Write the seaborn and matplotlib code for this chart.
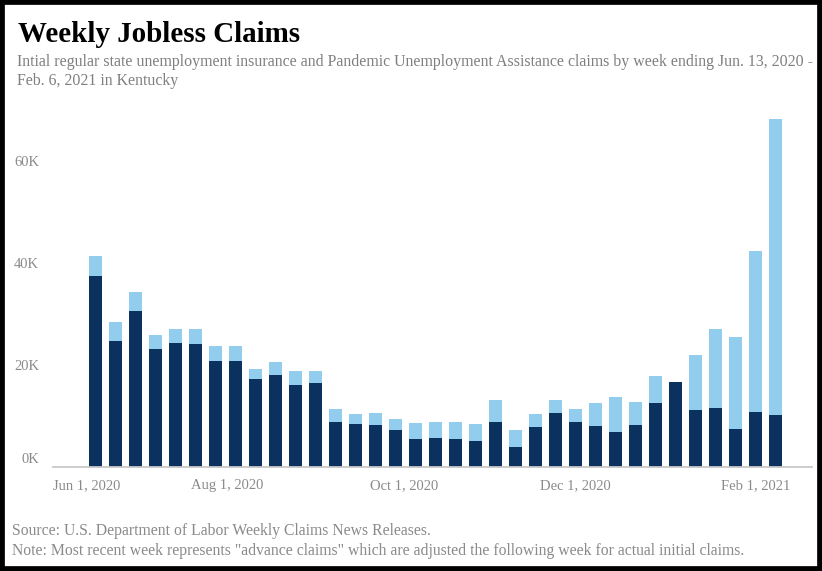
import matplotlib
matplotlib.use("Agg")
import matplotlib.pyplot as plt
import matplotlib.transforms as mtransforms
from matplotlib.patches import Rectangle
import seaborn as sns
import pandas as pd
import numpy as np

# ---- data (thousands of claims) ----
weeks = pd.date_range("2020-06-13", "2021-02-06", freq="7D").strftime("%Y-%m-%d").tolist()
regular_k = [37.5, 24.7, 30.6, 23.1, 24.4, 24.2, 20.8, 20.8, 17.3, 18.0,
             16.1, 16.4, 8.9, 8.5, 8.2, 7.3, 5.4, 5.6, 5.4, 5.1,
             8.9, 4.0, 7.8, 10.6, 8.9, 8.0, 6.9, 8.2, 12.5, 16.7,
             11.1, 11.6, 7.5, 10.8, 10.1]
pua_k = [3.9, 3.8, 3.8, 2.7, 2.7, 2.9, 2.9, 2.9, 1.9, 2.6,
         2.8, 2.5, 2.4, 1.9, 2.4, 2.1, 3.3, 3.3, 3.5, 3.3,
         4.3, 3.3, 2.6, 2.6, 2.4, 4.5, 6.8, 4.5, 5.3, 0.0,
         10.9, 15.4, 17.9, 31.6, 58.1]
x_tick_labels = ["Jun 1, 2020", "Aug 1, 2020", "Oct 1, 2020", "Dec 1, 2020", "Feb 1, 2021"]
x_tick_pos = [-0.43, 6.58, 15.4, 24.0, 33.0]
y_ticks = [0, 20000, 40000, 60000]

regular = np.array(regular_k) * 1000
pua = np.array(pua_k) * 1000
df = pd.DataFrame({"week": weeks, "regular": regular, "total": regular + pua})

DARK = "#0b315f"
LIGHT = "#93cdee"
GREY = "#8a8a8a"
SERIF = "Liberation Serif"

sns.set_theme(style="white")
plt.rcParams["font.family"] = [SERIF, "DejaVu Serif"]

fig = plt.figure(figsize=(8.22, 5.71), dpi=100)
W, H = 822, 571
ax_left, ax_right, ax_bottom, ax_top = 53, 812, 467, 110
ax = fig.add_axes([ax_left / W, (H - ax_bottom) / H, (ax_right - ax_left) / W, (ax_bottom - ax_top) / H])

sns.barplot(data=df, x="week", y="total", color=LIGHT, width=0.65, saturation=1,
            linewidth=0, edgecolor="none", ax=ax)
sns.barplot(data=df, x="week", y="regular", color=DARK, width=0.65, saturation=1,
            linewidth=0, edgecolor="none", ax=ax)

ax.set_xlim(-2.125, 35.8)
ax.set_ylim(0, 70000)
ax.set_xlabel("")
ax.set_ylabel("")
for s in ["top", "right", "left"]:
    ax.spines[s].set_visible(False)
ax.spines["bottom"].set_color("#c8c8c8")
ax.spines["bottom"].set_linewidth(1.3)

ax.set_xticks(x_tick_pos)
ax.set_xticklabels(x_tick_labels)
ax.set_yticks(y_ticks)
ax.set_yticklabels([f"{v // 1000}K" for v in y_ticks])
ax.tick_params(axis="both", length=0, labelsize=10.5, labelcolor=GREY)
ax.tick_params(axis="x", pad=9)
ax.tick_params(axis="y", pad=10)
for lbl in ax.get_xticklabels() + ax.get_yticklabels():
    lbl.set_fontfamily(SERIF)

# lift the 0K label above the baseline
zero_tick = ax.yaxis.get_major_ticks()[0]
zero_tick.label1.set_transform(zero_tick.label1.get_transform()
                               + mtransforms.ScaledTranslation(0, 0.09, fig.dpi_scale_trans))

# titles
fig.text(18 / W, 1 - 34 / H, "Weekly Jobless Claims", fontsize=20.9, fontweight="bold",
         family=SERIF, color="black", va="center", ha="left")
fig.text(17 / W, 1 - 62 / H,
         "Intial regular state unemployment insurance and Pandemic Unemployment Assistance claims by week ending Jun. 13, 2020 -",
         fontsize=11.45, family=SERIF, color="#7f7f7f", va="center", ha="left")
fig.text(17 / W, 1 - 81 / H, "Feb. 6, 2021 in Kentucky",
         fontsize=11.45, family=SERIF, color="#7f7f7f", va="center", ha="left")

fig.text(12 / W, 1 - 531 / H, "Source: U.S. Department of Labor Weekly Claims News Releases.",
         fontsize=11.3, family=SERIF, color=GREY, va="center", ha="left")
fig.text(12 / W, 1 - 551 / H,
         'Note: Most recent week represents "advance claims" which are adjusted the following week for actual initial claims.',
         fontsize=11.3, family=SERIF, color=GREY, va="center", ha="left")

fig.patches.append(Rectangle((0, 0), 1, 1, transform=fig.transFigure, fill=False,
                             edgecolor="black", linewidth=7, zorder=10))

fig.savefig("out.png", dpi=100)
